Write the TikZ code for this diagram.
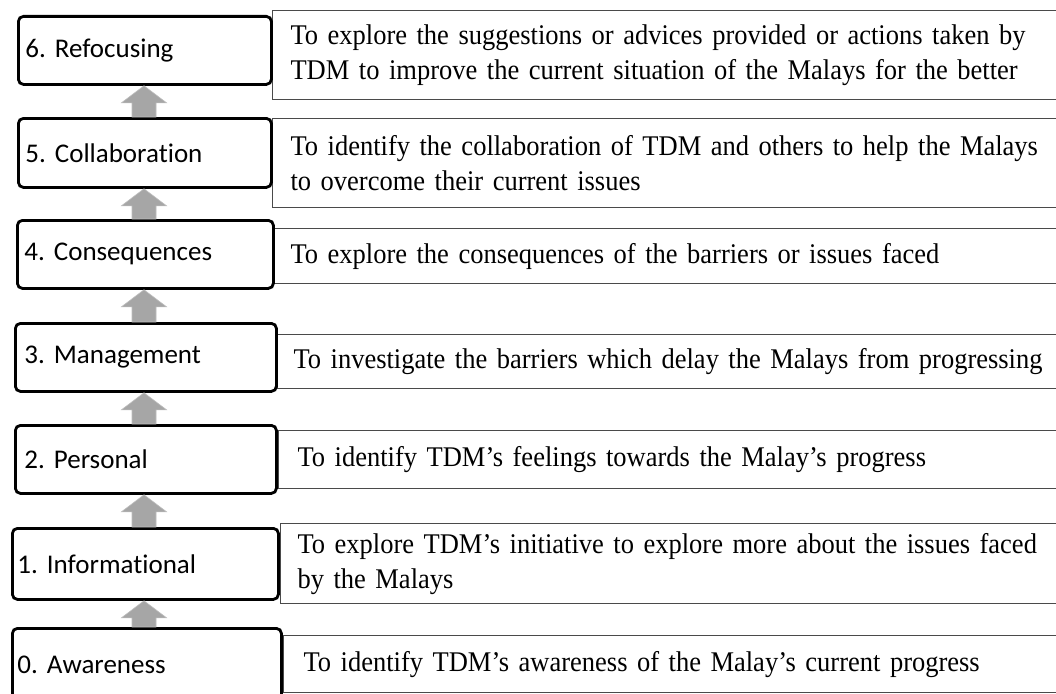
\documentclass[tikz,border=0pt]{standalone}
\usepackage{fontspec}
\setmainfont[FakeStretch=0.93, WordSpace=0.9]{Liberation Serif}
\newfontfamily\stagefont[Ligatures=NoCommon]{Carlito}
\usetikzlibrary{calc}
\definecolor{arrowfill}{HTML}{A6A6A6}
\definecolor{arrowedge}{HTML}{BDBDBD}
\definecolor{descline}{HTML}{4A4A4A}
\frenchspacing
\tikzset{
  stagebox/.style={draw=black, line width=2.8pt, rounded corners=5pt, fill=white,
    anchor=north west, inner ysep=0pt, align=left,
    font=\stagefont\fontsize{27}{32}\selectfont},
  descbox/.style={draw=descline, line width=1.1pt, fill=white,
    anchor=north west, inner ysep=0pt, align=left, text width=800pt,
    font=\fontsize{28.5}{35}\selectfont},
}
% upward block arrow from the top of one box to the bottom of the next
\newcommand\stagearrow[2]{%
  \path let \p1=(#1.north), \p2=(#2.south) in
    coordinate (tip) at (144pt,\y2)
    coordinate (base) at (144pt,\y1);
  \fill[arrowfill, draw=arrowedge, line width=0.6pt]
    (tip) -- ($(tip)+(22.5,17)$) -- ($(tip)+(12,17)$) --
    ($(base)+(12,0)$) -- ($(base)+(-12,0)$) -- ($(tip)+(-12,17)$) --
    ($(tip)+(-22.5,17)$) -- cycle;
}
\begin{document}
\begin{tikzpicture}[x=1pt, y=-1pt]
\useasboundingbox (0,0) rectangle (1056,693);
\clip (0,0) rectangle (1056,693);
\fill[white] (0,0) rectangle (1056,693);

% descriptions (right column)
\node[descbox, inner xsep=18pt, minimum height=89pt] (R6) at (272,10)
  {To explore the suggestions or advices provided or actions taken by\\TDM to improve the current situation of the Malays for the better};
\node[descbox, inner xsep=18pt, minimum height=89pt] (R5) at (272,118)
  {To identify the collaboration of TDM and others to help the Malays\\to overcome their current issues};
\node[descbox, inner xsep=17pt, minimum height=55pt] (R4) at (273,228)
  {To explore the consequences of the barriers or issues faced};
\node[descbox, inner xsep=16pt, minimum height=54pt] (R3) at (277,334)
  {To investigate the barriers which delay the Malays from progressing};
\node[descbox, inner xsep=19pt, minimum height=58pt] (R2) at (278,430)
  {To identify TDM’s feelings towards the Malay’s progress};
\node[descbox, inner xsep=17pt, minimum height=80pt] (R1) at (280,523)
  {To explore TDM’s initiative to explore more about the issues faced\\by the Malays};
\node[descbox, inner xsep=20pt, minimum height=57pt] (R0) at (283,635)
  {To identify TDM’s awareness of the Malay’s current progress};

% stages (left column)
\node[stagebox, inner xsep=7pt, text width=239pt, minimum height=68pt] (L6) at (17,15) {6. Refocusing};
\node[stagebox, inner xsep=7pt, text width=239pt, minimum height=69pt] (L5) at (17,117) {5. Collaboration};
\node[stagebox, inner xsep=7pt, text width=242pt, minimum height=68pt] (L4) at (16,219) {4. Consequences};
\node[stagebox, inner xsep=9pt, text width=243pt, minimum height=68pt] (L3) at (14,322) {3. Management};
\node[stagebox, inner xsep=9pt, text width=243pt, minimum height=68pt] (L2) at (14,424) {2. Personal};
\node[stagebox, inner xsep=5pt, text width=256pt, minimum height=71pt] (L1) at (11,527) {1. Informational};
\node[stagebox, inner xsep=5pt, text width=259pt, minimum height=73pt] (L0) at (11,627) {0. Awareness};

% arrows between the stages
\stagearrow{L0}{L1}
\stagearrow{L1}{L2}
\stagearrow{L2}{L3}
\stagearrow{L3}{L4}
\stagearrow{L4}{L5}
\stagearrow{L5}{L6}
\end{tikzpicture}
\end{document}
